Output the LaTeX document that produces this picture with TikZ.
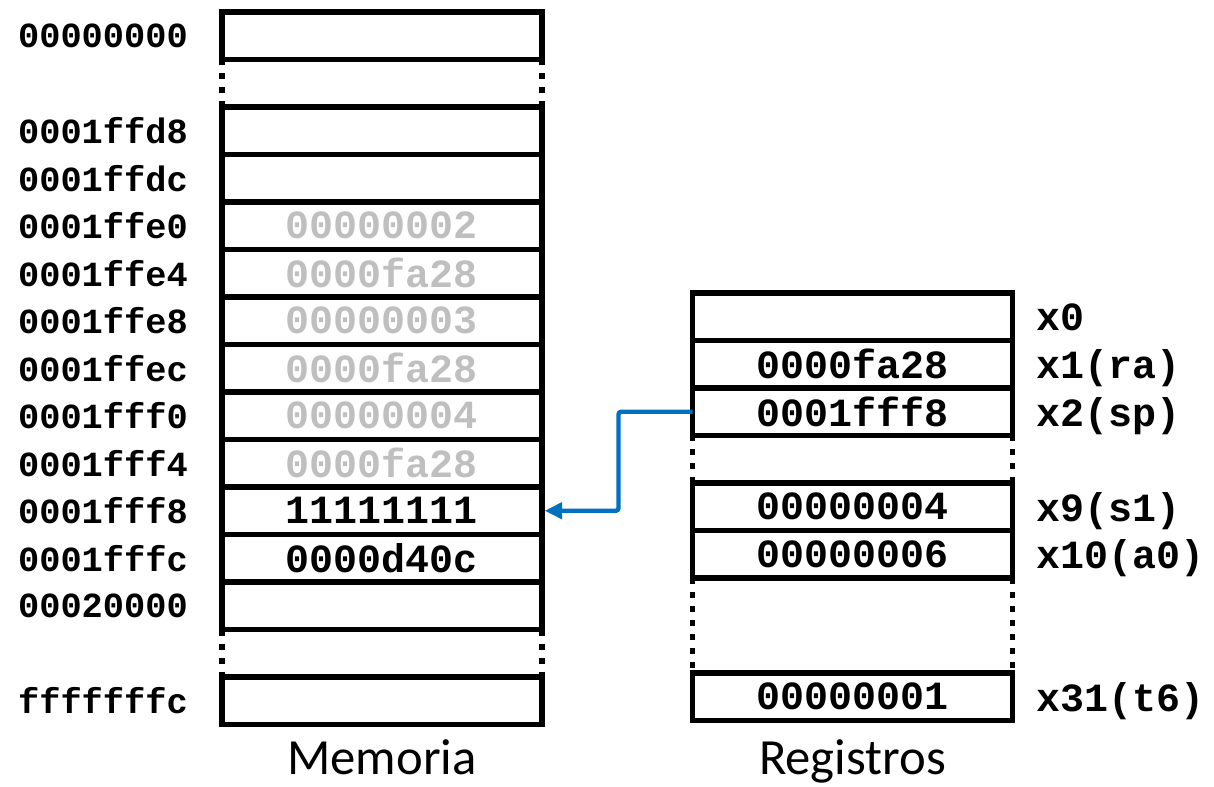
\documentclass[tikz,border=0pt]{standalone}
\usepackage{fontspec}
\setmonofont{Liberation Mono}
\setsansfont{Carlito}
\usetikzlibrary{positioning, arrows.meta}
\definecolor{oldval}{HTML}{BFBFBF}
\definecolor{spblue}{HTML}{0070C0}
\begin{document}
\begin{tikzpicture}[x=0.75pt, y=-0.75pt, >={Triangle[length=13pt,width=12pt]},
  cell/.style={draw, line width=4.2pt, minimum width=240pt, minimum height=35.625pt,
    inner sep=0pt, outer sep=0pt, font=\ttfamily\bfseries\fontsize{30}{30}\selectfont},
  addr/.style={inner sep=0pt, font=\ttfamily\bfseries\fontsize{26.5}{26.5}\selectfont},
  regname/.style={inner sep=0pt, text depth=0pt, font=\ttfamily\bfseries\fontsize{30}{30}\selectfont},
  gapside/.style={line width=4.2pt, dash pattern=on 4.5pt off 6pt},
  caption/.style={anchor=base, font=\sffamily\fontsize{38}{38}\selectfont}]
  \useasboundingbox (0,0) rectangle (1214,787);
  % memoria
  \node[cell] (m00) at (382,35.75) {};
  \node[cell] (md8) at (382,130.75) {};
  \node[cell] (mdc) at (382,178.25) {};
  \node[cell, text=oldval] (me0) at (382,225.75) {00000002};
  \node[cell, text=oldval] (me4) at (382,273.25) {0000fa28};
  \node[cell, text=oldval] (me8) at (382,320.75) {00000003};
  \node[cell, text=oldval] (mec) at (382,368.25) {0000fa28};
  \node[cell, text=oldval] (mf0) at (382,415.75) {00000004};
  \node[cell, text=oldval] (mf4) at (382,463.25) {0000fa28};
  \node[cell] (mf8) at (382,510.75) {11111111};
  \node[cell] (mfc) at (382,558.25) {0000d40c};
  \node[cell] (m200) at (382,605.75) {};
  \node[cell] (mff) at (382,700.75) {};
  \draw[gapside] (m00.south west) -- (md8.north west);
  \draw[gapside] (m00.south east) -- (md8.north east);
  \draw[gapside] (m200.south west) -- (mff.north west);
  \draw[gapside] (m200.south east) -- (mff.north east);
  \node[addr, left=25.5pt of m00] (a00) {00000000};
  \node[addr, left=25.5pt of md8] (ad8) {0001ffd8};
  \node[addr, left=25.5pt of mdc] (adc) {0001ffdc};
  \node[addr, left=25.5pt of me0] (ae0) {0001ffe0};
  \node[addr, left=25.5pt of me4] (ae4) {0001ffe4};
  \node[addr, left=25.5pt of me8] (ae8) {0001ffe8};
  \node[addr, left=25.5pt of mec] (aec) {0001ffec};
  \node[addr, left=25.5pt of mf0] (af0) {0001fff0};
  \node[addr, left=25.5pt of mf4] (af4) {0001fff4};
  \node[addr, left=25.5pt of mf8] (af8) {0001fff8};
  \node[addr, left=25.5pt of mfc] (afc) {0001fffc};
  \node[addr, left=25.5pt of m200] (a200) {00020000};
  \node[addr, left=25.5pt of mff] (aff) {fffffffc};
  \node[caption] (memcap) at (382,774) {Memoria};
  % registros
  \node[cell] (x0) at (852.5,316.75) {};
  \node[cell] (x1) at (852.5,364.25) {0000fa28};
  \node[cell] (x2) at (852.5,411.75) {0001fff8};
  \node[cell] (x9) at (852.5,506.75) {00000004};
  \node[cell] (x10) at (852.5,554.25) {00000006};
  \node[cell] (x31) at (852.5,696.75) {00000001};
  \draw[gapside] (x2.south west) -- (x9.north west);
  \draw[gapside] (x2.south east) -- (x9.north east);
  \draw[gapside] (x10.south west) -- (x31.north west);
  \draw[gapside] (x10.south east) -- (x31.north east);
  \node[regname, right=18pt of x0] (n0) {x0};
  \node[regname, right=18pt of x1] (n1) {x1(ra)};
  \node[regname, right=18pt of x2] (n2) {x2(sp)};
  \node[regname, right=18pt of x9] (n9) {x9(s1)};
  \node[regname, right=18pt of x10] (n10) {x10(a0)};
  \node[regname, right=18pt of x31] (n31) {x31(t6)};
  \node[caption] (regcap) at (852.5,774) {Registros};
  % sp apunta a la pila
  \draw[->, spblue, line width=3.3pt, rounded corners=2pt, shorten >=2pt]
    (x2.west) -- ++(-74,0) |- (mf8.east);
\end{tikzpicture}
\end{document}
